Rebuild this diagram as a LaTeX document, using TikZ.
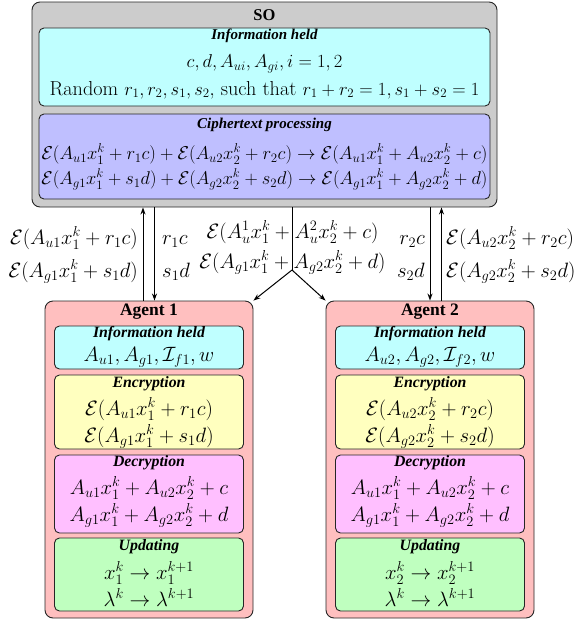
\documentclass[tikz,border=0pt]{standalone}
\usepackage{graphicx}
\usepackage{fontspec}
\newfontfamily\tnr{Liberation Serif}
\usetikzlibrary{arrows.meta}
\definecolor{sogray}{RGB}{204,204,204}
\definecolor{cyanbox}{RGB}{191,255,255}
\definecolor{bluebox}{RGB}{191,191,255}
\definecolor{pinkbox}{RGB}{255,191,191}
\definecolor{yellowbox}{RGB}{255,255,191}
\definecolor{magbox}{RGB}{255,191,255}
\definecolor{greenbox}{RGB}{191,255,191}
\newcommand\clines[3]{\vtop{\baselineskip=#1\lineskiplimit=-\maxdimen\lineskip=0pt\halign{\hfil##\hfil\cr#2\cr#3\cr}}}
\newcommand\rlines[3]{\vtop{\baselineskip=#1\lineskiplimit=-\maxdimen\lineskip=0pt\halign{\hfil##\cr#2\cr#3\cr}}}
\newcommand\llines[3]{\vtop{\baselineskip=#1\lineskiplimit=-\maxdimen\lineskip=0pt\halign{##\hfil\cr#2\cr#3\cr}}}
\begin{document}
\begin{tikzpicture}[x=1pt,y=-1pt,
  box/.style={draw=black!85, rounded corners=5pt, line width=0.9pt, inner sep=0pt},
  ttl/.style={font=\tnr\bfseries\itshape\fontsize{15}{17}\selectfont, inner sep=0pt},
  ttla/.style={font=\tnr\bfseries\itshape\fontsize{15.8}{18}\selectfont, inner sep=0pt},
  hd/.style={font=\tnr\bfseries\fontsize{16.5}{18}\selectfont, inner sep=0pt},
  hda/.style={font=\tnr\bfseries\fontsize{17.5}{19}\selectfont, inner sep=0pt},
  mth/.style={font=\fontsize{18.8}{22}\selectfont, inner sep=0pt, anchor=base},
  mtha/.style={font=\fontsize{20}{24}\selectfont, inner sep=0pt, anchor=base},
  arr/.style={-{Stealth[length=7pt,width=5pt]}, line width=1pt},
  ln/.style={line width=1pt}]
\useasboundingbox (0,0) rectangle (574,625);
% SO
\node[box, rounded corners=8pt, fill=sogray, minimum width=465pt, minimum height=205pt] (so) at (264.5,104.5) {};
\node[hd] (sot) at (264.5,15) {SO};
\node[box, fill=cyanbox, minimum width=451pt, minimum height=78pt] (soinfo) at (264.5,67) {};
\node[ttl] (soinfot) at (264.5,36) {Information held};
\node[mth] (soinfotxt) at (264.5,67.5) {\scalebox{1.075}{\clines{25.6pt}{$c, d, A_{ui}, A_{gi}, i=1,2$}{Random $r_1, r_2, s_1, s_2,$ such that $r_1+r_2=1, s_1+s_2=1$}}};
\node[box, fill=bluebox, minimum width=451pt, minimum height=85pt] (socp) at (264.5,156.5) {};
\node[ttl] (socpt) at (264.5,125) {Ciphertext processing};
\node[mth] (socptxt) at (264.5,159.5) {\clines{25pt}{\resizebox{446pt}{!}{$\mathcal{E}(A_{u1}x_1^k+r_1c)+\mathcal{E}(A_{u2}x_2^k+r_2c)\to\mathcal{E}(A_{u1}x_1^k+A_{u2}x_2^k+c)$}}{\resizebox{446pt}{!}{$\mathcal{E}(A_{g1}x_1^k+s_1d)+\mathcal{E}(A_{g2}x_2^k+s_2d)\to\mathcal{E}(A_{g1}x_1^k+A_{g2}x_2^k+d)$}}};
% Agents
\foreach \i/\xc in {1/149,2/430}{
  \node[box, rounded corners=8pt, fill=pinkbox, minimum width=208pt, minimum height=317pt] (a\i) at (\xc,459.5) {};
  \node[hda] (a\i t) at (\xc,312) {Agent \i};
  \node[box, fill=cyanbox, minimum width=189pt, minimum height=43pt] (a\i info) at (\xc,347.5) {};
  \node[ttla] (a\i infot) at (\xc,334) {Information held};
  \node[mtha] (a\i info1) at (\xc,361) {$A_{u\i}, A_{g\i}, \mathcal{I}_{f\i}, w$};
  \node[box, fill=yellowbox, minimum width=189pt, minimum height=74pt] (a\i enc) at (\xc,412) {};
  \node[ttla] (a\i enct) at (\xc,384) {Encryption};
  \node[mtha] (a\i enctxt) at (\xc,415) {\clines{27pt}{$\mathcal{E}(A_{u\i}x_\i^k+r_\i c)$}{$\mathcal{E}(A_{g\i}x_\i^k+s_\i d)$}};
  \node[box, fill=magbox, minimum width=189pt, minimum height=78pt] (a\i dec) at (\xc,494) {};
  \node[ttla] (a\i dect) at (\xc,463) {Decryption};
  \node[mtha] (a\i dectxt) at (\xc,494.5) {\clines{26.5pt}{$A_{u1}x_1^k+A_{u2}x_2^k+c$}{$A_{g1}x_1^k+A_{g2}x_2^k+d$}};
  \node[box, fill=greenbox, minimum width=189pt, minimum height=73pt] (a\i upd) at (\xc,574.5) {};
  \node[ttla] (a\i updt) at (\xc,547) {Updating};
  \node[mtha] (a\i updtxt) at (\xc,579) {\clines{27pt}{$x_\i^k\to x_\i^{k+1}$}{$\lambda^k\to\lambda^{k+1}$}};
}
% connectors
\coordinate (u1) at (143,0);
\coordinate (d1) at (154.5,0);
\coordinate (d2) at (430,0);
\coordinate (u2) at (441.5,0);
\coordinate (j) at (292,270);
\draw[arr] (u1 |- a1.north) -- (u1 |- so.south);
\draw[arr] (d1 |- so.south) -- (d1 |- a1.north);
\draw[arr] (d2 |- so.south) -- (d2 |- a2.north);
\draw[arr] (u2 |- a2.north) -- (u2 |- so.south);
% labels
\node[mtha, anchor=base east] (l1) at (138,244.5) {\rlines{33pt}{$\mathcal{E}(A_{u1}x_1^k+r_1c)$}{$\mathcal{E}(A_{g1}x_1^k+s_1d)$}};
\node[mtha, anchor=base west] (l1s) at (162,244.5) {\llines{33pt}{$r_1c$}{$s_1d$}};
\node[mtha, anchor=base east] (l2s) at (425,244.5) {\rlines{33pt}{$r_2c$}{$s_2d$}};
\node[mtha, anchor=base west] (l2) at (446,244.5) {\llines{33pt}{$\mathcal{E}(A_{u2}x_2^k+r_2c)$}{$\mathcal{E}(A_{g2}x_2^k+s_2d)$}};
\node[mtha] (lc) at (292.5,238.5) {\clines{30pt}{$\mathcal{E}(A_u^1x_1^k+A_u^2x_2^k+c)$}{$\mathcal{E}(A_{g1}x_1^k+A_{g2}x_2^k+d)$}};
\draw[ln] (j |- so.south) -- (j);
\draw[arr] (j) -- (a1.north east);
\draw[arr] (j) -- (a2.north west);
\end{tikzpicture}
\end{document}
